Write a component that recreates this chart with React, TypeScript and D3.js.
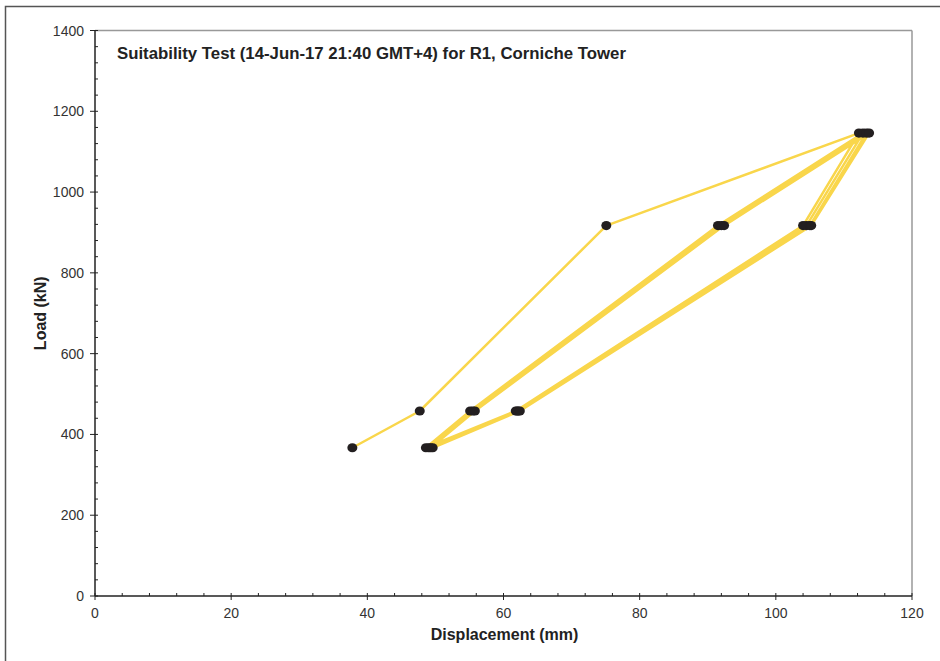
import React from "react";
import * as d3 from "d3";

const displacement = [37.8, 47.7, 75.1, 112.2, 104.0, 61.8, 48.6, 55.1, 91.5, 112.8, 104.5, 62.0, 49.0, 55.5, 92.0, 113.3, 105.0, 62.2, 49.3, 55.8, 92.4, 113.7, 105.2, 62.4, 49.6];
const load = [367, 458, 917, 1146, 917, 458, 367, 458, 917, 1146, 917, 458, 367, 458, 917, 1146, 917, 458, 367, 458, 917, 1146, 917, 458, 367];
const xTicks = [0, 20, 40, 60, 80, 100, 120];
const yTicks = [0, 200, 400, 600, 800, 1000, 1200, 1400];
const title = "Suitability Test (14-Jun-17 21:40 GMT+4) for R1, Corniche Tower";
const xLabel = "Displacement (mm)";
const yLabel = "Load (kN)";

const W = 940, H = 661;
const left = 95, right = 912, top = 30.5, bottom = 596;

export default function App() {
  const x = d3.scaleLinear().domain([0, 120]).range([left, right]);
  const y = d3.scaleLinear().domain([0, 1400]).range([bottom, top]);
  const pts = displacement.map((d, i) => [d, load[i]] as [number, number]);
  const line = d3.line<[number, number]>().x(d => x(d[0])).y(d => y(d[1]));
  const xMinor = d3.range(0, 121, 4).filter(v => v % 20 !== 0);
  const yMinor = d3.range(0, 1401, 40).filter(v => v % 200 !== 0);
  const font = "Liberation Sans, Arial, sans-serif";
  return (
    <svg width={W} height={H} style={{ position: "absolute", left: 0, top: 0, background: "#fff" }} fontFamily={font}>
      <rect x={5.5} y={6.5} width={W + 20} height={H + 20} fill="none" stroke="#555" strokeWidth={1.5} />
      <line x1={left} x2={right} y1={top} y2={top} stroke="#999" strokeWidth={1.5} />
      <line x1={right} x2={right} y1={top} y2={bottom} stroke="#999" strokeWidth={1.5} />
      <text x={117} y={59} fontSize={16.8} fontWeight="bold" fill="#222">{title}</text>
      <path d={line(pts) || ""} fill="none" stroke="#F9D64B" strokeWidth={2.5} strokeLinejoin="round" />
      {pts.map((p, i) => (
        <ellipse key={i} cx={x(p[0])} cy={y(p[1])} rx={5} ry={4.6} fill="#231F20" />
      ))}
      <line x1={left} x2={right} y1={bottom} y2={bottom} stroke="#222" strokeWidth={1.5} />
      <line x1={left} x2={left} y1={top} y2={bottom} stroke="#222" strokeWidth={1.5} />
      {xMinor.map(v => (
        <line key={"xm" + v} x1={x(v)} x2={x(v)} y1={bottom} y2={bottom - 3} stroke="#222" strokeWidth={1} />
      ))}
      {yMinor.map(v => (
        <line key={"ym" + v} x1={left} x2={left + 3} y1={y(v)} y2={y(v)} stroke="#222" strokeWidth={1} />
      ))}
      {xTicks.map(v => (
        <g key={"x" + v}>
          <line x1={x(v)} x2={x(v)} y1={bottom - 3} y2={bottom + 4} stroke="#222" strokeWidth={1} />
          <text x={x(v)} y={618} textAnchor="middle" fontSize={14} fill="#333">{v}</text>
        </g>
      ))}
      {yTicks.map(v => (
        <g key={"y" + v}>
          <line x1={left - 5} x2={left + 3} y1={y(v)} y2={y(v)} stroke="#222" strokeWidth={1} />
          <text x={84} y={y(v) + 5} textAnchor="end" fontSize={14} fill="#333">{v}</text>
        </g>
      ))}
      <text x={(left + right) / 2 + 1} y={640} textAnchor="middle" fontSize={16} fontWeight="bold" fill="#222">{xLabel}</text>
      <text transform={`translate(46,${(top + bottom) / 2}) rotate(-90)`} textAnchor="middle" fontSize={16} fontWeight="bold" fill="#222">{yLabel}</text>
    </svg>
  );
}
